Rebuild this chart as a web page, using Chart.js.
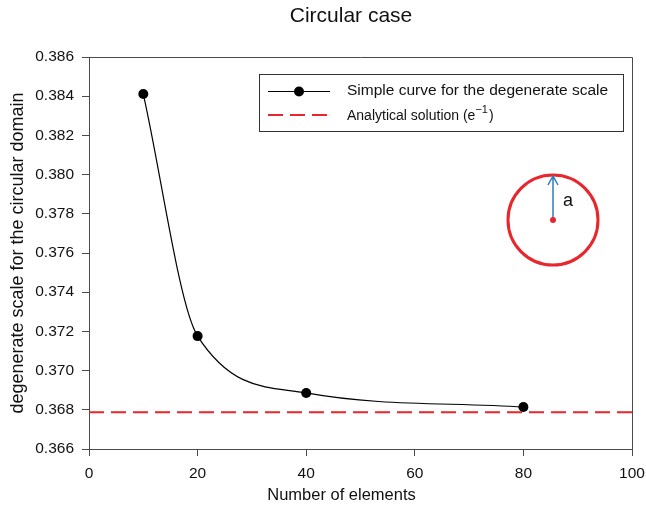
<!DOCTYPE html>
<html>
<head>
<meta charset="utf-8">
<script src="https://cdn.jsdelivr.net/npm/chart.js@4"></script>
<style>
  html, body { margin: 0; padding: 0; background: #fff; }
  #wrap { width: 646px; height: 514px; }
</style>
</head>
<body>
<div id="wrap"><canvas id="chart" width="646" height="514"></canvas></div>
<script>
// data
const elements = [10, 20, 40, 80];
const degenerateScale = [0.38411, 0.37176, 0.36886, 0.36814];
const analyticalX = [0, 100];
const analyticalValue = Math.exp(-1);
const xTicks = [0, 20, 40, 60, 80, 100];
const yTicks = [0.366, 0.368, 0.370, 0.372, 0.374, 0.376, 0.378, 0.380, 0.382, 0.384, 0.386];

const FONT = 'Arial, "Liberation Sans", sans-serif';
const AXIS = '#4a4a4a';
const RED = '#e8262b';
const BLUE = '#2e7bc4';

// title, x title, frame, legend box and the circle sketch
const extras = {
    id: 'extras',
    afterDraw(chart) {
        const ctx = chart.ctx;
        const a = chart.chartArea;
        ctx.save();

        ctx.fillStyle = '#111';
        ctx.textAlign = 'center';
        ctx.textBaseline = 'middle';
        ctx.font = '21px ' + FONT;
        ctx.fillText('Circular case', 351, 16);
        ctx.font = '16.5px ' + FONT;
        ctx.fillText('Number of elements', 341.5, 495);

        // top + right sides of the frame
        ctx.strokeStyle = AXIS;
        ctx.lineWidth = 1;
        ctx.beginPath();
        ctx.moveTo(a.left, a.top + 0.5);
        ctx.lineTo(a.right + 0.5, a.top + 0.5);
        ctx.lineTo(a.right + 0.5, a.bottom);
        ctx.stroke();

        // legend
        ctx.strokeStyle = '#333';
        ctx.strokeRect(259.5, 74.5, 364, 57);
        ctx.strokeStyle = '#000';
        ctx.lineWidth = 1.2;
        ctx.beginPath();
        ctx.moveTo(268, 91.5);
        ctx.lineTo(330, 91.5);
        ctx.stroke();
        ctx.fillStyle = '#000';
        ctx.beginPath();
        ctx.arc(299, 91.5, 5, 0, Math.PI * 2);
        ctx.fill();
        ctx.strokeStyle = RED;
        ctx.lineWidth = 2;
        ctx.setLineDash([15, 7]);
        ctx.beginPath();
        ctx.moveTo(268, 115);
        ctx.lineTo(332, 115);
        ctx.stroke();
        ctx.setLineDash([]);

        ctx.fillStyle = '#111';
        ctx.textAlign = 'left';
        ctx.font = '15.5px ' + FONT;
        ctx.fillText('Simple curve for the degenerate scale', 347, 91);
        ctx.font = '14px "Liberation Sans Narrow", "Arial Narrow", ' + FONT;
        ctx.fillText('Analytical solution (e', 347, 116);
        let w = ctx.measureText('Analytical solution (e').width;
        ctx.font = '11px "Liberation Sans Narrow", "Arial Narrow", ' + FONT;
        ctx.fillText('\u22121', 347 + w, 110);
        let w2 = ctx.measureText('\u22121').width;
        ctx.font = '14px "Liberation Sans Narrow", "Arial Narrow", ' + FONT;
        ctx.fillText(')', 347 + w + w2 + 1, 116);

        // circle sketch
        const cx = 553, cy = 220, r = 45;
        ctx.strokeStyle = RED;
        ctx.lineWidth = 3;
        ctx.beginPath();
        ctx.arc(cx, cy, r, 0, Math.PI * 2);
        ctx.stroke();
        ctx.strokeStyle = BLUE;
        ctx.lineWidth = 1.5;
        ctx.beginPath();
        ctx.moveTo(cx, cy);
        ctx.lineTo(cx, cy - r + 1);
        ctx.moveTo(cx - 5, cy - r + 10);
        ctx.lineTo(cx, cy - r + 1);
        ctx.lineTo(cx + 5, cy - r + 10);
        ctx.stroke();
        ctx.fillStyle = RED;
        ctx.beginPath();
        ctx.arc(cx, cy, 3, 0, Math.PI * 2);
        ctx.fill();
        ctx.fillStyle = '#111';
        ctx.font = '18px ' + FONT;
        ctx.fillText('a', 563, 201);

        ctx.restore();
    }
};

new Chart(document.getElementById('chart'), {
    type: 'line',
    data: {
        datasets: [{
            label: 'Simple curve for the degenerate scale',
            data: elements.map((x, i) => ({ x: x, y: degenerateScale[i] })),
            borderColor: '#000',
            backgroundColor: '#000',
            borderWidth: 1.2,
            pointRadius: 5,
            pointBorderWidth: 0,
            cubicInterpolationMode: 'monotone',
            order: 1
        }, {
            label: 'Analytical solution',
            data: analyticalX.map(x => ({ x: x, y: analyticalValue })),
            borderColor: RED,
            borderWidth: 2,
            borderDash: [15, 7],
            pointRadius: 0,
            order: 2
        }]
    },
    options: {
        responsive: false,
        animation: false,
        layout: { padding: { left: 0, right: 0, top: 57, bottom: 0 } },
        plugins: {
            legend: { display: false },
            tooltip: { enabled: false },
            title: { display: false }
        },
        scales: {
            x: {
                type: 'linear',
                min: 0,
                max: 100,
                afterBuildTicks: s => { s.ticks = xTicks.map(v => ({ value: v })); },
                afterFit: s => { s.height = 65; s.paddingRight = 14; },
                ticks: {
                    color: '#111',
                    font: { family: FONT, size: 15.5 },
                    padding: 8,
                    maxRotation: 0
                },
                grid: { drawOnChartArea: false, drawTicks: true, tickLength: 7, color: AXIS },
                border: { display: true, color: AXIS },
                title: { display: false }
            },
            y: {
                min: 0.366,
                max: 0.386,
                afterBuildTicks: s => { s.ticks = yTicks.map(v => ({ value: v })); },
                afterFit: s => { s.width = 89; s.paddingTop = 0; },
                ticks: {
                    color: '#111',
                    font: { family: FONT, size: 15.5 },
                    padding: 8,
                    callback: v => Number(v).toFixed(3)
                },
                grid: { drawOnChartArea: false, drawTicks: true, tickLength: 7, color: AXIS },
                border: { display: true, color: AXIS },
                title: {
                    display: true,
                    text: 'degenerate scale for the circular domain',
                    color: '#111',
                    font: { family: FONT, size: 18 },
                    padding: { top: 7, bottom: 4 }
                }
            }
        }
    },
    plugins: [extras]
});
</script>
</body>
</html>
